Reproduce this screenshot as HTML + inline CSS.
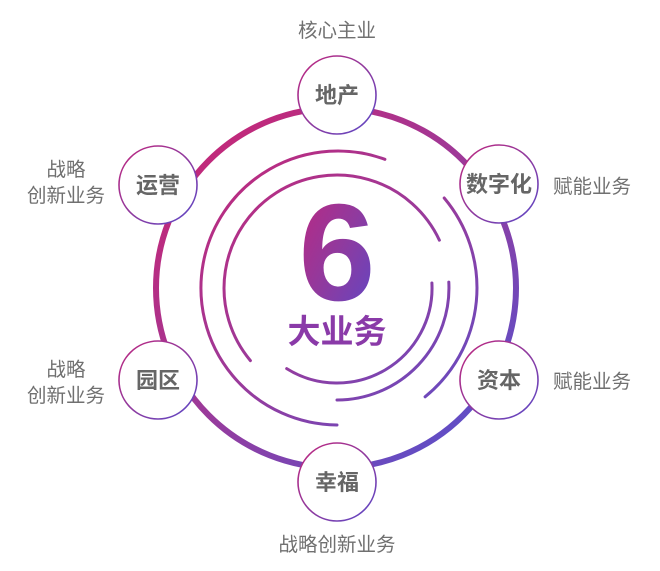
<!DOCTYPE html>
<html><head><meta charset="utf-8"><style>
html,body{margin:0;padding:0;background:#fff;}
svg text{font-family:"Liberation Sans","Noto Sans CJK SC",sans-serif;}
</style></head><body>
<svg width="660" height="566" viewBox="0 0 660 566" xmlns="http://www.w3.org/2000/svg">
<defs>
<linearGradient id="g" x1="0" y1="0" x2="1" y2="1">
<stop offset="0" stop-color="#c0267e"/>
<stop offset="0.5" stop-color="#903a9e"/>
<stop offset="1" stop-color="#5a48c8"/>
</linearGradient>
<linearGradient id="g2" gradientUnits="userSpaceOnUse" x1="160" y1="100" x2="510" y2="480">
<stop offset="0" stop-color="#d0226e"/>
<stop offset="0.5" stop-color="#9b3a9a"/>
<stop offset="1" stop-color="#4a55d6"/>
</linearGradient>
</defs>
<circle cx="336" cy="288" r="180" fill="none" stroke="url(#g2)" stroke-width="6"/>
<g fill="none" stroke="url(#g2)" stroke-width="3" stroke-linecap="round">
<path d="M384.9 159.3 A137 137 0 1 0 337 425"/>
<path d="M439.4 240.2 A113 113 0 1 0 250.4 360.6"/>
<path d="M444.2 198 A140 140 0 0 1 425.1 396.8"/>
<path d="M431.9 283 A95 95 0 0 1 286.7 368.6"/>
<path d="M448.8 282.1 A112 112 0 0 1 337 400"/>
</g>
<text x="337" y="300" text-anchor="middle" font-size="138" font-weight="bold" fill="url(#g)">6</text>
<text x="337" y="343" text-anchor="middle" font-size="33" font-weight="bold" fill="#8a3aa8">大业务</text>
<g fill="#fff" stroke="url(#g)" stroke-width="1.6">
<circle cx="337" cy="95" r="39"/>
<circle cx="158" cy="185" r="39"/>
<circle cx="499" cy="184" r="39"/>
<circle cx="158" cy="380" r="39"/>
<circle cx="499" cy="380" r="39"/>
<circle cx="337" cy="482" r="39"/>
</g>
<g font-size="22" font-weight="bold" fill="#666" text-anchor="middle">
<text x="337" y="103">地产</text>
<text x="158" y="193">运营</text>
<text x="499" y="192">数字化</text>
<text x="158" y="388">园区</text>
<text x="499" y="388">资本</text>
<text x="337" y="490">幸福</text>
</g>
<g font-size="19.5" fill="#707070">
<text x="337" y="37" text-anchor="middle">核心主业</text>
<text x="553" y="193">赋能业务</text>
<text x="553" y="388">赋能业务</text>
<text x="66" y="176" text-anchor="middle">战略</text>
<text x="66" y="202" text-anchor="middle">创新业务</text>
<text x="66" y="376" text-anchor="middle">战略</text>
<text x="66" y="402" text-anchor="middle">创新业务</text>
<text x="337" y="551" text-anchor="middle">战略创新业务</text>
</g>
</svg>
</body></html>
